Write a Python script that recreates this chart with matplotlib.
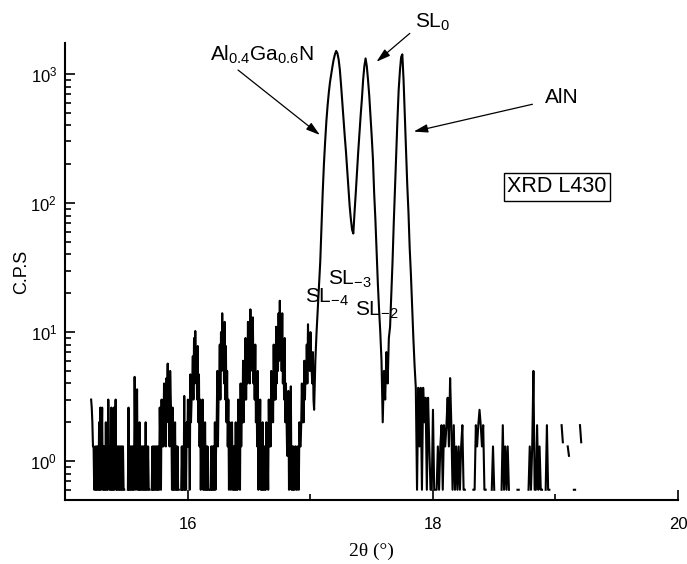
import numpy as np
import matplotlib
matplotlib.use("Agg")
import matplotlib.pyplot as plt
from matplotlib.ticker import MultipleLocator, LogLocator, NullFormatter

plt.rcParams['font.family'] = ['Liberation Sans', 'DejaVu Sans']
plt.rcParams['mathtext.fontset'] = 'custom'
plt.rcParams['mathtext.rm'] = 'Liberation Sans'
plt.rcParams['mathtext.it'] = 'Liberation Sans:italic'
plt.rcParams['mathtext.bf'] = 'Liberation Sans:bold'

nan = float('nan')

# start angle and step (deg 2theta) of each part of the scan
start_low, step_low = 15.20, 0.005
start_peaks, step_peaks = 17.03, 0.01
start_high, step_high = 17.86, 0.01

# thickness fringes below the main peaks, 15.200 .. 17.025 (one row = 0.1 deg)
cps_low = [
    nan, nan, 3.0, 2.6, 2.0, 1.3, 1.3, 0.6, 0.6, 1.3, 0.6, 1.3, 0.6, 1.3, 0.6, 2.0, 0.6, 2.6, 0.6, 1.3,
    2.6, 0.6, 1.3, 0.6, 1.3, 0.6, 2.0, 0.6, 1.3, 0.6, 3.0, 1.3, 0.6, 1.3, 0.6, 2.6, 0.6, 1.3, 0.6, 2.6,
    0.6, 1.3, 3.0, 0.6, 1.3, 0.6, 1.3, 0.6, 1.3, 0.6, 1.3, 0.6, 1.3, 0.6, 1.3, 0.6, 0.6, nan, nan, nan,
    nan, nan, 0.6, 2.6, 0.6, 1.3, 0.6, 1.3, 0.6, 1.3, 0.6, 1.3, 0.6, 4.5, 1.3, 0.6, 2.0, 3.6, 0.6, 1.3,
    0.6, 2.0, 0.6, 1.3, 0.6, 1.3, 0.6, 1.3, 0.6, 1.3, 0.6, 2.0, 0.6, 1.3, 0.6, 1.3, 0.6, 0.6, nan, nan,
    nan, 0.6, 1.3, 0.6, 1.3, 0.6, 1.3, 0.6, 1.3, 0.6, 1.3, 0.6, 1.3, 0.6, 2.6, 1.3, 0.6, 3.0, 1.3, 2.0,
    1.3, 4.0, 2.0, 3.0, 1.3, 4.4, 3.0, 5.7, 2.0, 4.4, 1.3, 5.0, 3.0, 2.0, 0.6, 2.6, 0.6, 1.3, 0.6, 2.0,
    0.6, 1.3, 0.6, 1.3, 0.6, 0.6, nan, nan, nan, 0.6, 1.3, 0.6, 1.3, 0.6, 3.2, 0.6, 1.3, 0.6, 2.0, 1.3,
    3.0, 1.3, 2.0, 0.6, 4.7, 2.0, 3.0, 4.0, 6.5, 3.0, 9.0, 4.0, 10.2, 5.0, 6.0, 3.0, 7.8, 2.0, 4.7, 1.3,
    3.0, 0.6, 2.0, 1.3, 3.0, 0.6, 1.3, 0.6, 2.0, 0.6, 1.3, 0.6, 1.3, 0.6, 0.6, nan, nan, 0.6, 1.3, 0.6,
    1.3, 0.6, 1.3, 0.6, 2.0, 0.6, 1.3, 2.0, 5.0, 1.3, 3.0, 4.0, 8.0, 3.0, 10.0, 5.0, 14.0, 6.0, 9.0, 4.0,
    12.0, 3.0, 7.8, 2.0, 5.0, 1.3, 3.0, 0.6, 2.0, 1.3, 0.6, 1.3, 2.0, 0.6, 1.3, 0.6, 1.3, 0.6, 2.0, 0.6,
    1.3, 0.6, 3.0, 1.3, 2.0, 0.6, 4.0, 1.3, 2.6, 2.0, 6.0, 2.0, 5.0, 3.0, 9.0, 3.0, 7.0, 4.0, 12.0, 5.0,
    10.0, 4.0, 15.0, 6.0, 11.0, 5.0, 13.0, 4.0, 7.0, 3.0, 8.0, 2.0, 4.0, 1.3, 5.0, 0.6, 2.0, 1.3, 3.0, 0.6,
    1.3, 0.6, 2.0, 0.6, 1.3, 0.6, 1.3, 0.6, 2.0, 1.3, 1.3, 0.6, 3.0, 1.3, 2.0, 1.3, 5.0, 2.0, 4.0, 2.0,
    8.0, 3.0, 6.0, 3.0, 11.0, 4.0, 9.0, 5.0, 14.0, 6.0, 17.5, 7.0, 12.0, 5.0, 14.0, 4.0, 7.0, 3.0, 9.0, 2.0,
    4.0, 2.0, 1.1, 1.3, 3.5, 0.6, 2.0, 1.3, 3.8, 0.6, 1.3, 0.6, 1.3, 0.6, 0.6, 1.3, 1.3, 0.6, 0.6, 1.3,
    1.3, 0.6, 2.0, 1.3, 1.3, 2.0, 4.0, 2.0, 3.0, 2.0, 6.0, 3.0, 5.0, 4.0, 8.0, 4.0, 11.5, 6.0, 7.8, 5.0,
    10.0, 6.0, 5.0, 4.0, 7.0, 3.0,
]

# AlGaN, SL0 and AlN peaks, 17.03 .. 17.85
cps_peaks = [
    2.5, 6, 10, 15, 22, 35, 65, 120, 200, 300,
    430, 570, 720, 870, 1000, 1150, 1300, 1420, 1510, 1450,
    1300, 1080, 820, 600, 450, 330, 250, 180, 130, 95,
    75, 62, 58, 85, 120, 175, 250, 350, 480, 640,
    900, 1150, 1320, 1150, 900, 680, 480, 330, 220, 120,
    75, 42, 24, 15, 10, 6, 2, 5, 3, 7,
    4, 9, 11, 20, 35, 70, 130, 250, 440, 750,
    1050, 1350, 1420, 900, 480, 250, 140, 85, 45, 28,
    16, 9, 5.5,
]

# tail of the scan, 17.86 .. 19.21
cps_high = [
    3.7, 0.6, 3.7, 1.3, 3.7, 0.6, 3.7, 2.0, 3.1, 0.6,
    3.1, 1.3, 0.6, 0.6, 2.5, 0.6, 0.6, 0.6, 1.3, 0.6,
    1.3, 1.9, 0.6, 1.9, 1.3, 1.9, 3.1, 1.3, 4.4, 1.9,
    0.6, 1.9, 0.6, 1.3, 0.6, 1.3, 0.6, 1.3, 1.9, 0.6,
    0.6, nan, nan, nan, nan, nan, nan, 0.6, 0.6, 1.9,
    1.3, 1.9, 2.5, 1.9, 1.3, 1.9, 0.6, 0.6, nan, nan,
    nan, nan, 0.6, 1.3, 0.6, nan, nan, nan, nan, nan,
    0.6, 1.9, 0.6, 1.3, 0.6, 1.3, 0.6, nan, nan, nan,
    nan, nan, nan, 0.6, 0.6, nan, nan, nan, nan, nan,
    nan, nan, 0.6, 1.3, 0.6, 1.3, 5.0, 0.6, 0.6, 1.9,
    0.6, 1.3, 0.6, 0.6, nan, nan, 0.6, 1.9, 0.6, 0.6,
    nan, nan, nan, nan, nan, nan, nan, nan, nan, 1.9,
    1.4, nan, nan, nan, 1.3, 1.1, nan, nan, nan, 0.6,
    0.6, nan, nan, nan, 1.9, 1.4,
]

two_theta = np.concatenate([
    start_low + step_low * np.arange(len(cps_low)),
    start_peaks + step_peaks * np.arange(len(cps_peaks)),
    start_high + step_high * np.arange(len(cps_high)),
])
cps = np.array(cps_low + cps_peaks + cps_high, dtype=float)

fig = plt.figure(figsize=(6.87, 5.64), dpi=100)
ax = fig.add_axes([0.0952, 0.1135, 0.8917, 0.8103])

ax.plot(two_theta, cps, color='black', lw=1.5)

ax.set_yscale('log')
ax.set_xlim(15, 20)
ax.set_ylim(0.5, 1740)

ax.spines['top'].set_visible(False)
ax.spines['right'].set_visible(False)
ax.spines['left'].set_linewidth(1.5)
ax.spines['bottom'].set_linewidth(1.5)

ax.xaxis.set_major_locator(MultipleLocator(2))
ax.xaxis.set_minor_locator(MultipleLocator(1))
ax.yaxis.set_major_locator(LogLocator(base=10, numticks=10))
ax.yaxis.set_minor_locator(LogLocator(base=10, subs=np.arange(2, 10), numticks=20))
ax.yaxis.set_minor_formatter(NullFormatter())

ax.tick_params(which='both', direction='in', width=1.2, labelsize=12)
ax.tick_params(which='major', length=7)
ax.tick_params(which='minor', length=4)
ax.tick_params(axis='x', pad=12)
ax.tick_params(axis='y', pad=6)

ax.set_xlabel('2θ (°)', family='Liberation Serif', fontsize=14, labelpad=8)
ax.set_ylabel('C.P.S', fontsize=13)
ax.yaxis.set_label_coords(-0.058, 0.5)

# peak labels and arrows
arrow = dict(arrowstyle='-|>,head_length=0.6,head_width=0.18', lw=0.9,
             color='black', shrinkA=0, shrinkB=0, mutation_scale=14)

ax.text(16.18, 1261, r'Al$_{0.4}$Ga$_{0.6}$N', fontsize=15)
ax.annotate('', xy=(17.077, 337), xytext=(16.409, 1074),
            arrowprops=arrow, annotation_clip=False)

ax.text(17.852, 2270, r'SL$_{0}$', fontsize=15, clip_on=False)
ax.annotate('', xy=(17.539, 1245), xytext=(17.811, 2066),
            arrowprops=arrow, annotation_clip=False)

ax.text(18.912, 600, 'AlN', fontsize=15)
ax.annotate('', xy=(17.843, 358), xytext=(18.812, 583),
            arrowprops=arrow, annotation_clip=False)

ax.text(16.954, 16.85, r'SL$_{-4}$', fontsize=15)
ax.text(17.144, 23.3, r'SL$_{-3}$', fontsize=15)
ax.text(17.362, 13.3, r'SL$_{-2}$', fontsize=15)

ax.text(19.009, 133.7, 'XRD L430', fontsize=15.5, ha='center', va='center',
        bbox=dict(boxstyle='square,pad=0.15', fc='white', ec='black', lw=1))

fig.savefig('out.png', dpi=100)
